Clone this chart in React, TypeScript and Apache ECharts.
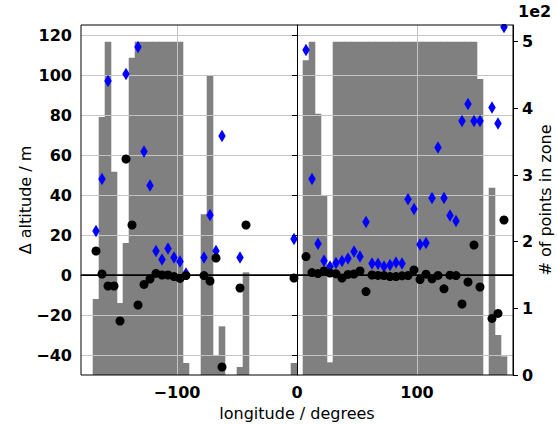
import React, { useEffect, useRef } from "react";
import * as echarts from "echarts";

// Longitude bin centres (degrees), 5-degree bins
const binCenters = [
  -177.5, -172.5, -167.5, -162.5, -157.5, -152.5, -147.5, -142.5, -137.5, -132.5,
  -127.5, -122.5, -117.5, -112.5, -107.5, -102.5, -97.5, -92.5, -87.5, -82.5,
  -77.5, -72.5, -67.5, -62.5, -57.5, -52.5, -47.5, -42.5, -37.5, -32.5,
  -27.5, -22.5, -17.5, -12.5, -7.5, -2.5, 2.5, 7.5, 12.5, 17.5,
  22.5, 27.5, 32.5, 37.5, 42.5, 47.5, 52.5, 57.5, 62.5, 67.5,
  72.5, 77.5, 82.5, 87.5, 92.5, 97.5, 102.5, 107.5, 112.5, 117.5,
  122.5, 127.5, 132.5, 137.5, 142.5, 147.5, 152.5, 157.5, 162.5, 167.5,
  172.5, 177.5,
];
const binWidth = 5;

// Number of points in each zone (right axis)
const pointCount = [
  0, 0, 114, 387, 500, 305, 108, 198, 476, 500,
  500, 500, 500, 500, 500, 500, 500, 18, 0, 0,
  241, 450, 30, 73, 0, 0, 12, 154, 0, 0,
  0, 0, 0, 0, 0, 18, 0, 472, 500, 392,
  269, 19, 500, 500, 500, 500, 500, 500, 500, 500,
  500, 500, 500, 500, 500, 500, 500, 500, 500, 500,
  500, 500, 500, 500, 500, 500, 444, 0, 281, 60,
  28, 0,
];

// Blue diamonds: Δ altitude (m)
const blueDiff = [
  null, null, 22, 48, 97, null, null, 100.5, null, 114,
  61.7, 44.7, 12, 7.7, 13.3, 8.8, 6.8, 0.7, null, null,
  8.7, 30, 12, 69.5, null, null, 8.7, null, null, null,
  null, null, null, null, null, 18, null, 112.5, 48, 15.6,
  7.1, 4.2, 6, 7, 8.3, 11.7, 9.2, 26.5, 5.7, 5.6,
  4.2, 5, 6.3, 5.7, 37.9, 33, 15.3, 16, 38.5, 63.8,
  38.5, 29.8, 27, 77, 85.5, 77, 77, null, 83.8, 75.8,
  124, null,
];

// Black circles: Δ altitude (m)
const blackDiff = [
  null, null, 12, 0.5, -5.5, -5.5, -23, 58, 25, -15,
  -4.7, -2, 0.8, 0, 0, -0.8, -1.7, -0.3, null, null,
  -0.3, -3, 8.5, -46, null, null, -6.5, 25, null, null,
  null, null, null, null, null, -1.5, null, 9.2, 1.2, 0.7,
  2, 1, 0.6, -1.5, 0.3, 0.5, 2, -8.3, 0, -0.2,
  -0.3, -0.8, -0.8, -0.4, -0.3, 2.5, -2.3, 0.4, -1.9, -0.2,
  -6.9, -0.1, -0.3, -14.5, -3.5, 15, -6, null, -21.7, -19.2,
  27.5, null,
];

const xTicks = [-100, 0, 100];
const leftTicks = [-40, -20, 0, 20, 40, 60, 80, 100, 120];
const rightTicks = [0, 100, 200, 300, 400, 500];

const FONT = "DejaVu Sans";
const minus = (v: number) => (v < 0 ? "\u2212" + Math.abs(v) : String(v));

export default function App() {
  const ref = useRef<HTMLDivElement>(null);
  useEffect(() => {
    document.body.style.margin = "0";
    if (!ref.current) return;
    const chart = echarts.init(ref.current, null, { renderer: "svg" });

    const histData = binCenters.map((c, i) => [c, pointCount[i]]);
    const blueData = binCenters
      .map((c, i) => [c, blueDiff[i]])
      .filter((d) => d[1] !== null);
    const blackData = binCenters
      .map((c, i) => [c, blackDiff[i]])
      .filter((d) => d[1] !== null);

    const tickLabel = {
      fontFamily: FONT,
      fontWeight: "bold" as const,
      fontSize: 16,
      color: "#000",
    };
    const nameStyle = { fontFamily: FONT, fontSize: 16, color: "#000" };

    chart.setOption({
      animation: false,
      backgroundColor: "#fff",
      grid: {
        left: 81,
        right: 44,
        top: 25,
        bottom: 50,
        containLabel: false,
        outerBoundsMode: "none",
        show: true,
        borderColor: "#000",
        borderWidth: 1,
        backgroundColor: "transparent",
        z: 10,
      },
      xAxis: {
        type: "value",
        min: -180,
        max: 180,
        z: 2,
        name: "longitude / degrees",
        nameLocation: "middle",
        nameGap: 30,
        nameMoveOverlap: false,
        nameTextStyle: nameStyle,
        axisLine: { show: true, lineStyle: { color: "#000", width: 1 } },
        axisTick: {
          show: true,
          length: 5,
          customValues: xTicks,
          lineStyle: { color: "#000" },
        },
        axisLabel: {
          ...tickLabel,
          margin: 9,
          customValues: xTicks,
          formatter: (v: number) => minus(v),
        },
        splitLine: { show: true, lineStyle: { color: "#c4c4c4", width: 1 } },
      },
      yAxis: [
        {
          type: "value",
          min: -50,
          max: 125,
          z: 2,
          position: "left",
          name: "\u0394 altitude / m",
          nameLocation: "middle",
          nameRotate: 90,
          nameGap: 48,
          nameMoveOverlap: false,
          nameTextStyle: nameStyle,
          axisLine: { show: true, lineStyle: { color: "#000", width: 1 } },
          axisTick: {
            show: true,
            length: 5,
            customValues: leftTicks,
            lineStyle: { color: "#000" },
          },
          axisLabel: {
            ...tickLabel,
            margin: 9,
            customValues: leftTicks,
            formatter: (v: number) => minus(v),
          },
          splitLine: { show: true, lineStyle: { color: "#c4c4c4", width: 1 } },
        },
        {
          type: "value",
          min: 0,
          max: 525,
          z: 2,
          position: "right",
          name: "# of points in zone",
          nameLocation: "middle",
          nameRotate: 90,
          nameGap: 24,
          nameMoveOverlap: false,
          nameTextStyle: nameStyle,
          axisLine: { show: true, lineStyle: { color: "#000", width: 1 } },
          axisTick: {
            show: true,
            length: 5,
            customValues: rightTicks,
            lineStyle: { color: "#000" },
          },
          axisLabel: {
            ...tickLabel,
            margin: 9,
            customValues: rightTicks,
            formatter: (v: number) => String(v / 100),
          },
          splitLine: { show: false },
        },
      ],
      graphic: [
        {
          type: "rect",
          left: 81,
          top: 0,
          shape: { width: 432, height: 24 },
          style: { fill: "#fff" },
          z: 100,
        },
        {
          type: "text",
          left: 518,
          top: 3,
          z: 101,
          style: {
            text: "1e2",
            fontFamily: FONT,
            fontWeight: "bold",
            fontSize: 16,
            fill: "#000",
          },
        },
      ],
      series: [
        {
          type: "custom",
          name: "points in zone",
          yAxisIndex: 1,
          z: 1,
          encode: { x: 0, y: 1 },
          data: histData,
          renderItem: (params: any, api: any) => {
            const c = api.value(0);
            const n = api.value(1);
            if (!n) return null;
            const p0 = api.coord([c - binWidth / 2, 0]);
            const p1 = api.coord([c + binWidth / 2, n]);
            return {
              type: "rect",
              shape: {
                x: p0[0] - 0.3,
                y: p1[1],
                width: p1[0] - p0[0] + 0.6,
                height: p0[1] - p1[1],
              },
              style: { fill: "#808080", stroke: null },
            };
          },
        },
        {
          type: "scatter",
          name: "blue",
          yAxisIndex: 0,
          z: 3,
          symbol: "diamond",
          symbolSize: [7.5, 12.5],
          itemStyle: { color: "#0000ff", opacity: 1 },
          data: blueData,
        },
        {
          type: "scatter",
          name: "black",
          yAxisIndex: 0,
          z: 4,
          symbol: "circle",
          symbolSize: 9,
          itemStyle: { color: "#000", opacity: 1 },
          data: blackData,
          markLine: {
            silent: true,
            symbol: "none",
            label: { show: false },
            lineStyle: { color: "#000", width: 1.5, type: "solid" },
            data: [{ yAxis: 0 }],
          },
        },
      ],
    });
    return () => chart.dispose();
  }, []);
  return <div ref={ref} style={{ width: 557, height: 425 }} />;
}
